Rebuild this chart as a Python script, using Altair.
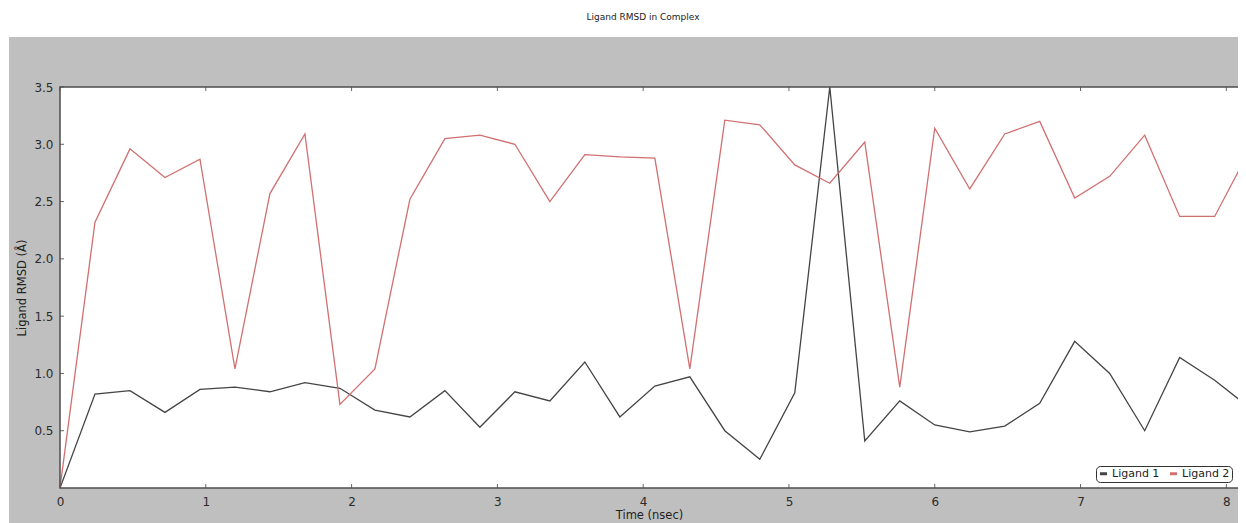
import altair as alt
import pandas as pd

# ---- data ----
time_ns = [0.00, 0.24, 0.48, 0.72, 0.96, 1.20, 1.44, 1.68, 1.92, 2.16,
           2.40, 2.64, 2.88, 3.12, 3.36, 3.60, 3.84, 4.08, 4.32, 4.56,
           4.80, 5.04, 5.28, 5.52, 5.76, 6.00, 6.24, 6.48, 6.72, 6.96,
           7.20, 7.44, 7.68, 7.92, 8.16]
ligand1 = [0.00, 0.82, 0.85, 0.66, 0.86, 0.88, 0.84, 0.92, 0.87, 0.68,
           0.62, 0.85, 0.53, 0.84, 0.76, 1.10, 0.62, 0.89, 0.97, 0.50,
           0.25, 0.83, 3.50, 0.41, 0.76, 0.55, 0.49, 0.54, 0.74, 1.28,
           1.00, 0.50, 1.14, 0.94, 0.70]
ligand2 = [0.00, 2.32, 2.96, 2.71, 2.87, 1.04, 2.57, 3.09, 0.73, 1.04,
           2.52, 3.05, 3.08, 3.00, 2.50, 2.91, 2.89, 2.88, 1.04, 3.21,
           3.17, 2.82, 2.66, 3.02, 0.88, 3.14, 2.61, 3.09, 3.20, 2.53,
           2.72, 3.08, 2.37, 2.37, 2.95]
series_names = ["Ligand 1", "Ligand 2"]
series_colors = ["#444444", "#d07070"]
x_ticks = [0, 1, 2, 3, 4, 5, 6, 7, 8]
y_ticks = [0.5, 1.0, 1.5, 2.0, 2.5, 3.0, 3.5]
chart_title = "Ligand RMSD in Complex"

W, H = 1178, 401
X_MAX = 8.08
Y_MAX = 3.5

df = pd.DataFrame({
    "Time": time_ns + time_ns,
    "RMSD": ligand1 + ligand2,
    "Ligand": [series_names[0]] * len(time_ns) + [series_names[1]] * len(time_ns),
})

xs = alt.Scale(domain=[0, X_MAX], nice=False, zero=False)
ys = alt.Scale(domain=[0, Y_MAX], nice=False, zero=False)
one = alt.Data(values=[{"k": 0}])

bg = alt.Chart(one).mark_rect(color="#bfbfbf").encode(
    x=alt.value(-51), x2=alt.value(W + 10), y=alt.value(-50), y2=alt.value(H + 60)
)
plotbg = alt.Chart(one).mark_rect(color="white").encode(
    x=alt.value(0), x2=alt.value(W + 10), y=alt.value(0), y2=alt.value(H)
)
title_text = alt.Chart(one).mark_text(
    text=chart_title, font="DejaVu Sans", fontSize=9, color="#222222",
    align="center", baseline="middle"
).encode(x=alt.value(583), y=alt.value(-70))

lines = alt.Chart(df).mark_line(strokeWidth=1.3, clip=True).encode(
    x=alt.X("Time:Q", scale=xs,
            axis=alt.Axis(values=x_ticks, format="d", title="Time (nsec)",
                          labelPadding=8, titlePadding=2, labelFlush=False, zindex=1)),
    y=alt.Y("RMSD:Q", scale=ys,
            axis=alt.Axis(values=y_ticks, format=".1f", title="Ligand RMSD (Å)",
                          labelPadding=7, titlePadding=6, labelFlush=False, zindex=1)),
    color=alt.Color("Ligand:N",
                    scale=alt.Scale(domain=series_names, range=series_colors),
                    legend=alt.Legend(title=None, orient="none", legendX=1036, legendY=379,
                                      direction="horizontal", fillColor="white",
                                      strokeColor="#333333", cornerRadius=4, padding=2,
                                      labelFont="DejaVu Sans", labelFontSize=11,
                                      labelColor="#222222", symbolType="stroke",
                                      symbolStrokeWidth=3, symbolSize=50,
                                      columnPadding=3, labelOffset=3)),
)

xt = pd.DataFrame({"Time": x_ticks})
yt = pd.DataFrame({"RMSD": y_ticks})
tick_color = "#666666"
bottom_ticks = alt.Chart(xt).mark_rule(color=tick_color).encode(
    x=alt.X("Time:Q", scale=xs), y=alt.value(H), y2=alt.value(H - 4))
top_ticks = alt.Chart(xt).mark_rule(color=tick_color).encode(
    x=alt.X("Time:Q", scale=xs), y=alt.value(0), y2=alt.value(4))
left_ticks = alt.Chart(yt).mark_rule(color=tick_color).encode(
    y=alt.Y("RMSD:Q", scale=ys), x=alt.value(0), x2=alt.value(4))

frame = alt.Chart(one).mark_rect(fill="white", fillOpacity=0, stroke="#4d4d4d",
                                 strokeWidth=1.5).encode(
    x=alt.value(0), x2=alt.value(W + 10), y=alt.value(0), y2=alt.value(H))

chart = alt.layer(bg, plotbg, title_text, bottom_ticks, top_ticks, left_ticks,
                  lines, frame).properties(
    width=W, height=H,
    autosize=alt.AutoSizeParams(type="none"),
    padding={"left": 52, "top": 79, "right": 0, "bottom": 35},
).configure_view(stroke=None).configure_axis(
    labelFont="DejaVu Sans", labelFontSize=12, labelColor="#2b2b2b",
    titleFont="DejaVu Sans", titleFontSize=11.5, titleFontWeight="normal",
    titleColor="#222222", ticks=False, domain=False, grid=False,
)

chart.save("out.html", embed_options={"renderer": "svg", "actions": False})
